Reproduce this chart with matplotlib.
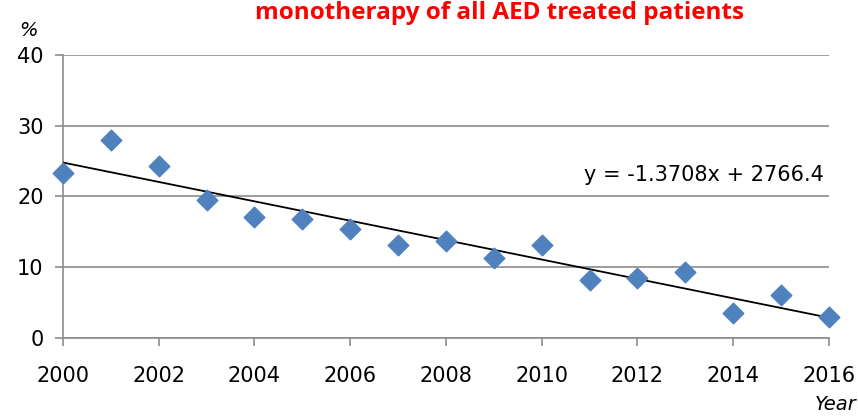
import matplotlib.pyplot as plt
import numpy as np

years = [2000, 2001, 2002, 2003, 2004, 2005, 2006, 2007, 2008,
         2009, 2010, 2011, 2012, 2013, 2014, 2015, 2016]
pct = [23.3, 28.0, 24.3, 19.5, 17.1, 16.8, 15.4, 13.1, 13.7,
       11.3, 13.1, 8.2, 8.5, 9.3, 3.5, 6.1, 3.0]
slope = -1.3708
intercept = 2766.4

fig = plt.figure(figsize=(8.58, 4.16), dpi=100)
ax = fig.add_axes([0.0734, 0.1875, 0.8928, 0.6803])

ax.set_xlim(2000, 2016)
ax.set_ylim(0, 40)
ax.set_xticks(range(2000, 2017, 2))
ax.set_yticks([0, 10, 20, 30, 40])
ax.grid(axis='y', color='#8c8c8c', linewidth=1.2)
ax.set_axisbelow(True)

for s in ['top', 'right']:
    ax.spines[s].set_visible(False)
for s in ['left', 'bottom']:
    ax.spines[s].set_color('#8c8c8c')
    ax.spines[s].set_linewidth(1.2)
ax.tick_params(colors='#8c8c8c', length=6, width=1.2, labelcolor='black', labelsize=15)
ax.tick_params(axis='x', pad=14)
ax.tick_params(axis='y', pad=8)

xs = np.array([years[0], years[-1]])
ax.plot(xs, slope * xs + intercept, color='black', linewidth=1.3, zorder=3)
ax.scatter(years, pct, marker='D', s=110, color='#4f81bd', edgecolors='#4f81bd',
           zorder=4, clip_on=False)

ax.text(2015.9, 23.0, 'y = -1.3708x + 2766.4', ha='right', va='center', fontsize=15)

fig.text(0.023, 0.905, '%', fontsize=14, style='italic', ha='left', va='bottom')
fig.text(0.998, 0.005, 'Year', fontsize=14, style='italic', ha='right', va='bottom')
fig.text(0.582, 0.997, 'monotherapy of all AED treated patients', color='red',
         fontsize=17.5, fontweight='bold', family='Open Sans', ha='center', va='top')

fig.savefig('out.png', dpi=100)
